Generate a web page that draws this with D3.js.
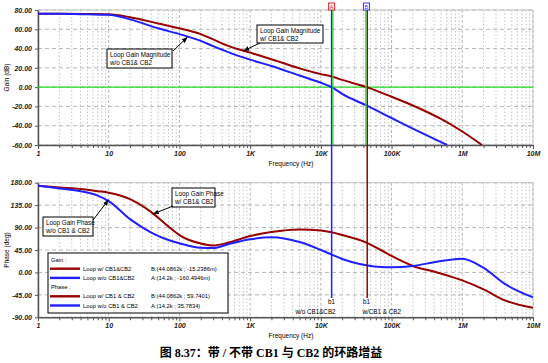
<!DOCTYPE html>
<html>
<head>
<meta charset="utf-8">
<script src="https://cdn.jsdelivr.net/npm/d3@7"></script>
<style>
    body { margin: 0; background: #fff; }
    svg text { font-family: "Liberation Sans", Arial, sans-serif; }
</style>
</head>
<body>
<div id="chart"></div>
<script>
// axis ticks
var freqTicks = [1, 10, 100, 1e3, 1e4, 1e5, 1e6, 1e7];
var freqTickLabels = ["1", "10", "100", "1K", "10K", "100K", "1M", "10M"];
var gainTicks = [80, 60, 40, 20, 0, -20, -40, -60];
var gainTickLabels = ["80.00", "60.00", "40.00", "20.00", "0.00", "-20.00", "-40.00", "-60.00"];
var phaseTicks = [180, 135, 90, 45, 0, -45, -90];
var phaseTickLabels = ["180.00", "135.00", "90.00", "45.00", "0.00", "-45.00", "-90.00"];

// loop gain magnitude (dB)
var gainFreqWith = [1, 2, 5, 10, 20, 50, 100, 200, 300, 500, 1e3, 2e3, 5e3, 1e4, 14.2e3, 2e4, 44.0862e3, 1e5, 2e5, 5e5, 1e6, 1.9e6];
var gainWith     = [76, 76, 75.8, 75.5, 72.5, 66, 61, 55, 49.5, 42.5, 35.8, 29, 19.5, 13.5, 11, 7.5, 0, -10, -19, -33, -46, -60];
var gainFreqWithout = [1, 2, 5, 10, 20, 50, 100, 200, 300, 500, 1e3, 2e3, 5e3, 1e4, 14.2e3, 2e4, 44.0862e3, 1e5, 2e5, 5e5, 6.1e5];
var gainWithout     = [76, 76, 75.5, 75, 70.3, 61, 55, 48, 42.5, 36, 28.5, 22, 12, 4.5, 0, -7, -19, -32, -43, -57, -60];

// loop gain phase (deg)
var phaseFreq    = [1, 2, 4, 7, 10, 20, 40, 70, 100, 200, 300, 500, 1e3, 2e3, 5e3, 1e4, 14.2e3, 2e4, 44.0862e3, 7e4, 1e5, 2e5, 4.4e5, 1e6, 2e6, 4e6, 1e7];
var phaseWith    = [174, 170.5, 167.5, 163, 160, 147, 121, 92, 75, 58, 54, 60, 73, 81, 86, 84, 80.5, 75, 59.7, 45, 33, 13, 0, -16, -34, -56, -71];
var phaseWithout = [174, 168.5, 163, 154, 143, 107, 80, 65, 58.5, 49.5, 49, 57, 66.5, 70.5, 61, 45, 35.8, 27, 14.5, 11, 10.5, 13, 21.5, 27.5, 9, -23, -50];

var cursorA = 14.2e3, cursorB = 44.0862e3;

var legendGain = [
    {name: "Loop w/ CB1&CB2", value: "B:(44.0862k ; -15.2386m)", color: "#990000"},
    {name: "Loop w/o CB1&CB2", value: "A:(14.2k ; -160.4946m)", color: "#1f1fff"}
];
var legendPhase = [
    {name: "Loop w/ CB1 & CB2", value: "B:(44.0862k ; 59.7401)", color: "#990000"},
    {name: "Loop w/o CB1 & CB2", value: "A:(14.2k ; 35.7834)", color: "#1f1fff"}
];

var red = "#990000", blue = "#1f1fff", green = "#22dd22";

var width = 548, height = 363;
var svg = d3.select("#chart").append("svg")
    .attr("width", width)
    .attr("height", height);

svg.append("defs").append("marker")
    .attr("id", "arrow")
    .attr("viewBox", "0 0 10 10")
    .attr("refX", 10).attr("refY", 5)
    .attr("markerWidth", 6).attr("markerHeight", 6)
    .attr("orient", "auto")
    .append("path")
    .attr("d", "M0,1L10,5L0,9Z")
    .attr("fill", "#000");

var x = d3.scaleLog().domain([1, 1e7]).range([38, 533]);
var yGain = d3.scaleLinear().domain([-60, 80]).range([145, 10]);
var yPhase = d3.scaleLinear().domain([-90, 180]).range([317.3, 182.7]);

var minorFreqs = [];
freqTicks.slice(0, -1).forEach(function(d) {
    for (var k = 2; k < 10; k++) minorFreqs.push(d * k);
});

function drawPanel(y, yTicks, yLabels, yTitle, id) {
    var g = svg.append("g");
    var top = y.range()[1], bottom = y.range()[0];

    g.append("clipPath").attr("id", id)
        .append("rect")
        .attr("x", x.range()[0]).attr("y", top)
        .attr("width", x.range()[1] - x.range()[0])
        .attr("height", bottom - top);

    // grid
    g.selectAll(".vminor").data(minorFreqs).enter().append("line")
        .attr("x1", function(d) { return x(d); })
        .attr("x2", function(d) { return x(d); })
        .attr("y1", top).attr("y2", bottom)
        .attr("stroke", "#c4c4c4")
        .attr("stroke-dasharray", "1.5,2");
    g.selectAll(".vmajor").data(freqTicks).enter().append("line")
        .attr("x1", function(d) { return x(d); })
        .attr("x2", function(d) { return x(d); })
        .attr("y1", top).attr("y2", bottom)
        .attr("stroke", "#b8b8b8")
        .attr("stroke-dasharray", "3,2");
    g.selectAll(".hmajor").data(yTicks).enter().append("line")
        .attr("x1", x.range()[0]).attr("x2", x.range()[1])
        .attr("y1", function(d) { return y(d); })
        .attr("y2", function(d) { return y(d); })
        .attr("stroke", "#b8b8b8")
        .attr("stroke-dasharray", "4,3");

    // frame
    g.append("rect")
        .attr("x", x.range()[0]).attr("y", top)
        .attr("width", x.range()[1] - x.range()[0])
        .attr("height", bottom - top)
        .attr("fill", "none")
        .attr("stroke", "#c8c8c8");

    // axes
    var xAxis = g.append("g")
        .attr("transform", "translate(0," + bottom + ")")
        .call(d3.axisBottom(x).tickValues(freqTicks)
            .tickFormat(function(d, i) { return freqTickLabels[i]; })
            .tickSize(4).tickSizeOuter(0).tickPadding(2));
    g.append("g")
        .attr("transform", "translate(0," + bottom + ")")
        .call(d3.axisBottom(x).tickValues(minorFreqs).tickFormat("")
            .tickSize(3).tickSizeOuter(0))
        .select(".domain").remove();
    var yAxis = g.append("g")
        .attr("transform", "translate(" + x.range()[0] + ",0)")
        .call(d3.axisLeft(y).tickValues(yTicks)
            .tickFormat(function(d, i) { return yLabels[i]; })
            .tickSize(3).tickSizeOuter(0).tickPadding(3));

    [xAxis, yAxis].forEach(function(a) {
        a.selectAll(".domain").attr("stroke", "#555").attr("stroke-width", 1.5);
        a.selectAll("text")
            .attr("font-size", 7)
            .attr("font-style", "italic")
            .attr("font-weight", "bold")
            .attr("fill", "#222");
    });
    g.selectAll(".tick line").attr("stroke", "#555");

    g.append("text")
        .attr("transform", "translate(9," + (top + bottom) / 2 + ") rotate(-90)")
        .attr("text-anchor", "middle")
        .attr("font-size", 6.5)
        .text(yTitle);
    g.append("text")
        .attr("x", 291).attr("y", bottom + 21)
        .attr("text-anchor", "middle")
        .attr("font-size", 6.5)
        .text("Frequency (Hz)");
    return g;
}

function curve(g, freqs, vals, y, color, clip) {
    var line = d3.line()
        .x(function(d, i) { return x(freqs[i]); })
        .y(function(d) { return y(d); })
        .curve(d3.curveMonotoneX);
    g.append("path")
        .datum(vals)
        .attr("clip-path", "url(#" + clip + ")")
        .attr("fill", "none")
        .attr("stroke", color)
        .attr("stroke-width", 2)
        .attr("d", line);
}

function note(lines, bx, by, bw, bh, from, to) {
    var g = svg.append("g");
    g.append("rect")
        .attr("x", bx).attr("y", by)
        .attr("width", bw).attr("height", bh)
        .attr("fill", "#fff")
        .attr("stroke", "#000")
        .attr("stroke-width", 1);
    g.selectAll("text").data(lines).enter().append("text")
        .attr("x", bx + 3)
        .attr("y", function(d, i) { return by + 7.5 + i * 8.5; })
        .attr("font-size", 6.3)
        .text(function(d) { return d; });
    g.append("line")
        .attr("x1", from[0]).attr("y1", from[1])
        .attr("x2", to[0]).attr("y2", to[1])
        .attr("stroke", "#000")
        .attr("marker-end", "url(#arrow)");
}

// gain panel
var gainPanel = drawPanel(yGain, gainTicks, gainTickLabels, "Gain (dB)", "clipGain");
gainPanel.append("line")
    .attr("x1", x.range()[0]).attr("x2", x.range()[1])
    .attr("y1", yGain(0)).attr("y2", yGain(0))
    .attr("stroke", green).attr("stroke-width", 1.3);
curve(gainPanel, gainFreqWith, gainWith, yGain, red, "clipGain");
curve(gainPanel, gainFreqWithout, gainWithout, yGain, blue, "clipGain");

// phase panel
var phasePanel = drawPanel(yPhase, phaseTicks, phaseTickLabels, "Phase (deg)", "clipPhase");
curve(phasePanel, phaseFreq, phaseWith, yPhase, red, "clipPhase");
curve(phasePanel, phaseFreq, phaseWithout, yPhase, blue, "clipPhase");

// cursors
var xa = x(cursorA), xb = x(cursorB);
svg.append("line").attr("x1", xa).attr("x2", xa).attr("y1", 9).attr("y2", 298)
    .attr("stroke", blue).attr("stroke-width", 1.5);
svg.append("line").attr("x1", xa + 1.3).attr("x2", xa + 1.3).attr("y1", 10).attr("y2", 145)
    .attr("stroke", green).attr("stroke-width", 1.2);
svg.append("line").attr("x1", xb + 0.8).attr("x2", xb + 0.8).attr("y1", 9).attr("y2", 298)
    .attr("stroke", red).attr("stroke-width", 1.5);
svg.append("line").attr("x1", xb - 0.5).attr("x2", xb - 0.5).attr("y1", 10).attr("y2", 145)
    .attr("stroke", green).attr("stroke-width", 1.3);

[{x: xa, label: "A", color: "#e02020"}, {x: xb, label: "B", color: "#3333ff"}].forEach(function(c) {
    svg.append("rect")
        .attr("x", c.x - 3).attr("y", 3)
        .attr("width", 6).attr("height", 7)
        .attr("fill", "#fff").attr("stroke", c.color);
    svg.append("text")
        .attr("x", c.x).attr("y", 8.8)
        .attr("text-anchor", "middle")
        .attr("font-size", 5.5)
        .attr("fill", c.color)
        .text(c.label);
});

svg.append("text").attr("x", xa).attr("y", 304).attr("text-anchor", "middle")
    .attr("font-size", 6.3).text("b1");
svg.append("text").attr("x", xa + 4).attr("y", 314).attr("text-anchor", "end")
    .attr("font-size", 6.3).text("w/o CB1&CB2");
svg.append("text").attr("x", xb).attr("y", 304).attr("text-anchor", "middle")
    .attr("font-size", 6.3).text("b1");
svg.append("text").attr("x", xb - 4).attr("y", 314)
    .attr("font-size", 6.3).text("w/CB1 & CB2");

// annotations
note(["Loop Gain Magnitude", "w/o CB1& CB2"], 107, 49, 65, 19,
    [173, 51], [x(130), yGain(52)]);
note(["Loop Gain Magnitude", "w/ CB1& CB2"], 257, 25, 66, 18,
    [260, 43], [x(800), yGain(37.5)]);
note(["Loop Gain Phase", "w/ CB1& CB2"], 172, 188, 43, 19,
    [173, 206], [x(42), yPhase(117)]);
note(["Loop Gain Phase", "w/o CB1 & CB2"], 43, 217, 50, 19,
    [93, 220], [x(10), yPhase(146)]);

// legend
var leg = svg.append("g");
leg.append("rect")
    .attr("x", 48).attr("y", 253)
    .attr("width", 180).attr("height", 60)
    .attr("fill", "#fff").attr("stroke", "#000");
var rows = [{head: "Gain :"}].concat(legendGain, [{head: "Phase :"}], legendPhase);
rows.forEach(function(r, i) {
    var yy = 261.5 + i * 9.2;
    if (r.head) {
        leg.append("text").attr("x", 51).attr("y", yy).attr("font-size", 5.8).text(r.head);
        return;
    }
    leg.append("line")
        .attr("x1", 50).attr("x2", 80)
        .attr("y1", yy - 2).attr("y2", yy - 2)
        .attr("stroke", r.color).attr("stroke-width", 2.4);
    leg.append("text").attr("x", 83).attr("y", yy).attr("font-size", 5.8).text(r.name);
    leg.append("text").attr("x", 151).attr("y", yy).attr("font-size", 5.8).text(r.value);
});

// caption
svg.append("text")
    .attr("x", 271).attr("y", 357)
    .attr("text-anchor", "middle")
    .attr("font-size", 12)
    .attr("font-weight", "bold")
    .style("font-family", "'Liberation Serif', 'Noto Sans CJK SC', serif")
    .text("图 8.37：带 / 不带 CB1 与 CB2 的环路增益");
</script>
</body>
</html>
